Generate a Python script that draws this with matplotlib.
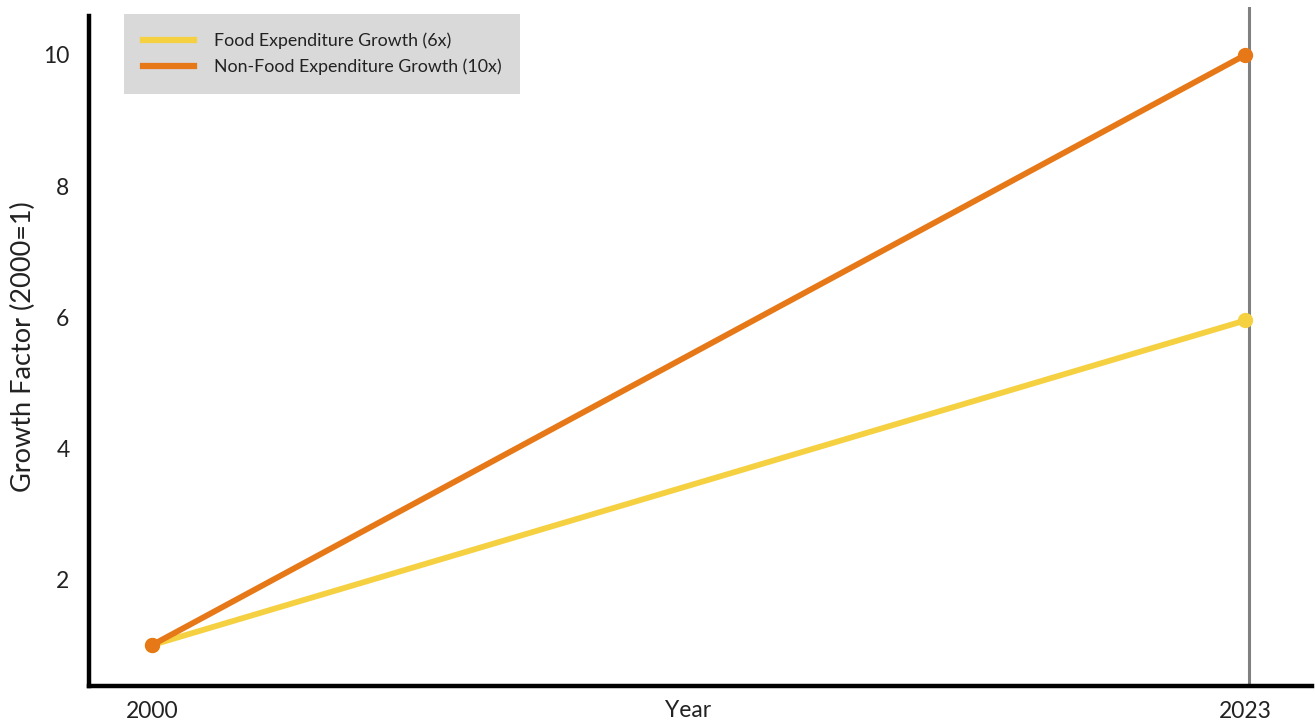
import matplotlib
matplotlib.use("Agg")
import matplotlib.pyplot as plt

plt.rcParams['font.family'] = ['Lato', 'DejaVu Sans']

anos = [2000, 2023]
food = [1.0, 5.95]
non_food = [1.0, 10.0]
y_ticks = [2, 4, 6, 8, 10]

cor_food = '#F5D142'
cor_non_food = '#E67817'

fig = plt.figure(figsize=(13.15, 7.22), dpi=100)
ax = fig.add_axes([0.0677, 0.0499, 0.930, 0.9404])

ax.axvline(2023.08, color='#808080', linewidth=2.2, zorder=1)

ax.plot(anos, food, color=cor_food, linewidth=4.2, marker='o', markersize=10,
        label='Food Expenditure Growth (6x)', zorder=3)
ax.plot(anos, non_food, color=cor_non_food, linewidth=4.2, marker='o', markersize=10,
        label='Non-Food Expenditure Growth (10x)', zorder=4)

ax.set_xlim(1998.67, 2024.4)
ax.set_ylim(0.375, 10.73)
ax.set_xticks(anos)
ax.set_yticks(y_ticks)
ax.tick_params(axis='both', length=0, labelsize=16.5, colors='#222222')
ax.tick_params(axis='y', pad=14)
ax.tick_params(axis='x', pad=11)

for s in ['top', 'right']:
    ax.spines[s].set_visible(False)
for s in ['left', 'bottom']:
    ax.spines[s].set_linewidth(3.2)
    ax.spines[s].set_color('black')
ax.spines['left'].set_bounds(0.375, 10.6)

ax.set_xlabel('Year', fontsize=16.5, color='#222222')
ax.xaxis.set_label_coords(0.49, -0.02)
ax.xaxis.label.set_va('top')
ax.set_ylabel('Growth Factor (2000=1)', fontsize=19.5, color='#222222', labelpad=5)

leg = ax.legend(loc='upper left', bbox_to_anchor=(0.0286, 0.99), fontsize=12.8,
                frameon=True, fancybox=False, handlelength=2.9, borderpad=1.05,
                labelspacing=0.55, handletextpad=1.1, borderaxespad=0)
leg.get_frame().set_facecolor('#D9D9D9')
leg.get_frame().set_edgecolor('none')
leg.get_frame().set_alpha(1)
for h in leg.get_lines():
    h.set_marker('')
    h.set_linewidth(4.5)
for t in leg.get_texts():
    t.set_color('#222222')

fig.savefig('out.png', dpi=100)
